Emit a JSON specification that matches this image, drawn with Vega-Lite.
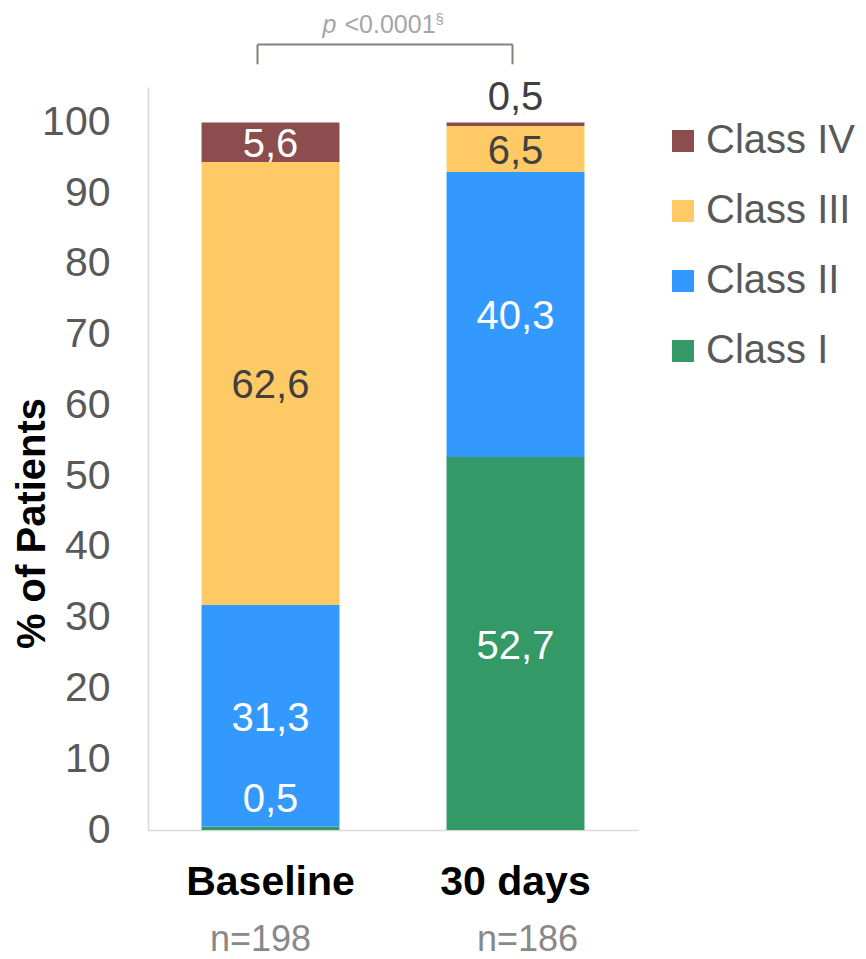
{
  "$schema": "https://vega.github.io/schema/vega-lite/v6.json",
  "width": 490,
  "height": 743,
  "autosize": {"type": "none"},
  "padding": {"left": 148, "top": 87, "right": 228, "bottom": 129},
  "config": {
    "font": "Liberation Sans",
    "view": {"stroke": null},
    "locale": {"number": {"decimal": ",", "thousands": ".", "grouping": [3], "currency": ["", " €"]}}
  },
  "datasets": {
    "nyha": [
      {"period": "Baseline", "cls": "Class I", "pct": 0.5},
      {"period": "Baseline", "cls": "Class II", "pct": 31.3},
      {"period": "Baseline", "cls": "Class III", "pct": 62.6},
      {"period": "Baseline", "cls": "Class IV", "pct": 5.6},
      {"period": "30 days", "cls": "Class I", "pct": 52.7},
      {"period": "30 days", "cls": "Class II", "pct": 40.3},
      {"period": "30 days", "cls": "Class III", "pct": 6.5},
      {"period": "30 days", "cls": "Class IV", "pct": 0.5}
    ],
    "cohorts": [
      {"period": "Baseline", "n": 198},
      {"period": "30 days", "n": 186}
    ]
  },
  "layer": [
    {
      "data": {"name": "nyha"},
      "mark": {"type": "bar"},
      "encoding": {
        "x": {
          "field": "period", "type": "nominal",
          "sort": ["Baseline", "30 days"],
          "scale": {"paddingInner": 0.437, "paddingOuter": 0.2185},
          "axis": {
            "title": null, "labelAngle": 0, "labelFontSize": 41, "labelFontWeight": "bold",
            "labelColor": "#000000", "labelPadding": 32, "ticks": false,
            "domainColor": "#d9d9d9", "domainWidth": 1.5
          }
        },
        "y": {
          "field": "pct", "type": "quantitative", "stack": "zero",
          "scale": {"domain": [0, 105], "nice": false},
          "axis": {
            "title": "% of Patients", "titleFontSize": 40, "titleFontWeight": "bold", "titleColor": "#000000",
            "titleX": -104, "titleY": 436, "titleBaseline": "alphabetic",
            "values": [0, 10, 20, 30, 40, 50, 60, 70, 80, 90, 100],
            "labelFontSize": 41, "labelColor": "#595959", "labelPadding": 38,
            "ticks": false, "grid": false, "domainColor": "#d9d9d9", "domainWidth": 1.5
          }
        },
        "color": {
          "field": "cls", "type": "nominal",
          "scale": {
            "domain": ["Class IV", "Class III", "Class II", "Class I"],
            "range": ["#8b4d4d", "#ffc966", "#3399ff", "#339966"]
          },
          "legend": {
            "orient": "none", "legendX": 515, "legendY": 34, "title": null, "padding": 0,
            "symbolType": "square", "symbolSize": 484, "symbolStrokeWidth": 0,
            "labelFontSize": 40, "labelColor": "#595959", "labelOffset": 3, "rowPadding": 30
          }
        },
        "order": {"field": "cls", "sort": "ascending"}
      }
    },
    {
      "data": {"name": "nyha"},
      "transform": [
        {"stack": "pct", "groupby": ["period"], "sort": [{"field": "cls", "order": "ascending"}], "as": ["y0", "y1"]},
        {"calculate": "(datum.y0 + datum.y1) / 2", "as": "mid"}
      ],
      "mark": {
        "type": "text", "fontSize": 40, "baseline": "middle", "align": "center",
        "dy": {"expr": "datum.pct < 1 ? (datum.period == 'Baseline' ? -28 : -26) : 3"}
      },
      "encoding": {
        "x": {"field": "period", "type": "nominal", "sort": ["Baseline", "30 days"]},
        "y": {"field": "mid", "type": "quantitative", "stack": null},
        "text": {"field": "pct", "type": "quantitative", "format": ".1f"},
        "color": {
          "condition": {"test": "datum.cls == 'Class III' || (datum.pct < 1 && datum.period == '30 days')", "value": "#404040"},
          "value": "#ffffff"
        }
      }
    },
    {
      "data": {"name": "cohorts"},
      "transform": [{"calculate": "'n=' + datum.n", "as": "nlabel"}],
      "mark": {
        "type": "text", "fontSize": 36, "color": "#898989", "baseline": "middle", "dy": 110,
        "dx": {"expr": "datum.period == 'Baseline' ? -10 : 12"}
      },
      "encoding": {
        "x": {"field": "period", "type": "nominal", "sort": ["Baseline", "30 days"]},
        "y": {"datum": 0},
        "text": {"field": "nlabel"}
      }
    },
    {
      "data": {"name": "cohorts"},
      "mark": {
        "type": "rule", "color": "#80837a", "strokeWidth": 2,
        "xOffset": {"expr": "datum.period == 'Baseline' ? -13 : -3"}
      },
      "encoding": {
        "x": {"field": "period", "type": "nominal", "sort": ["Baseline", "30 days"]},
        "y": {"datum": 108.2},
        "y2": {"datum": 111}
      }
    },
    {
      "data": {"values": [{}]},
      "mark": {"type": "rule", "color": "#80837a", "strokeWidth": 2, "xOffset": -13, "x2Offset": -3},
      "encoding": {
        "x": {"datum": "Baseline"},
        "x2": {"datum": "30 days"},
        "y": {"datum": 111}
      }
    },
    {
      "data": {"values": [{}]},
      "mark": {"type": "text", "text": "p", "fontSize": 25, "fontStyle": "italic", "color": "#a6a6a6", "align": "left", "baseline": "alphabetic", "dx": 52, "dy": -12},
      "encoding": {"x": {"datum": "Baseline"}, "y": {"datum": 111}}
    },
    {
      "data": {"values": [{}]},
      "mark": {"type": "text", "text": "<0.0001", "fontSize": 25, "color": "#a6a6a6", "align": "left", "baseline": "alphabetic", "dx": 74, "dy": -12},
      "encoding": {"x": {"datum": "Baseline"}, "y": {"datum": 111}}
    },
    {
      "data": {"values": [{}]},
      "mark": {"type": "text", "text": "§", "fontSize": 15, "color": "#a6a6a6", "align": "left", "baseline": "alphabetic", "dx": 165, "dy": -21},
      "encoding": {"x": {"datum": "Baseline"}, "y": {"datum": 111}}
    }
  ]
}
